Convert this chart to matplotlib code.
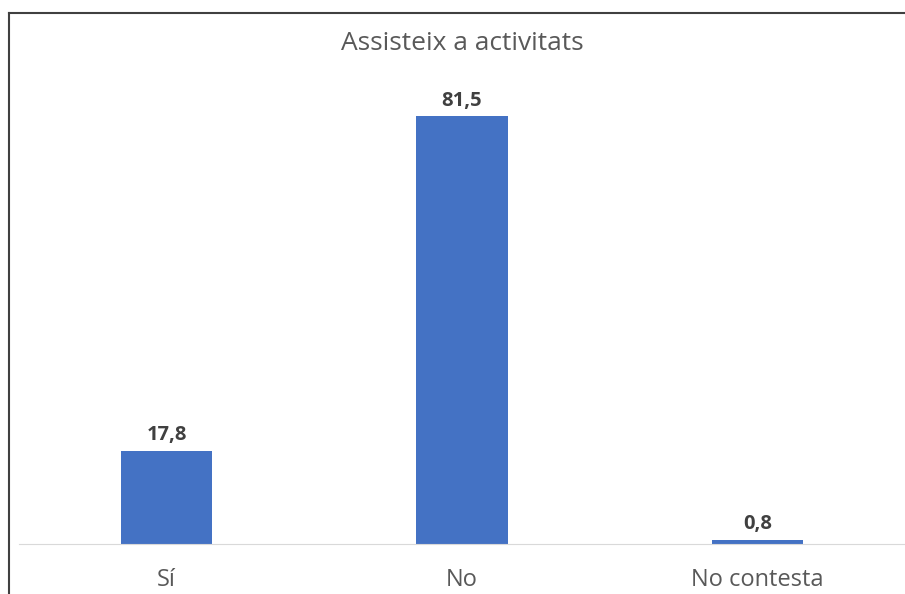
import matplotlib.pyplot as plt
from matplotlib.lines import Line2D

# dades
categories = ['Sí', 'No', 'No contesta']
values = [17.8, 81.5, 0.8]
labels = ['17,8', '81,5', '0,8']

plt.rcParams['font.family'] = ['Open Sans', 'DejaVu Sans']

W, H = 905, 594
fig = plt.figure(figsize=(W / 100, H / 100), dpi=100)

# eixos en píxels de la imatge
left, right, bottom, top = 19, 905, 544, 71.5
ax = fig.add_axes([left / W, 1 - bottom / H, (right - left) / W, (bottom - top) / H])

ax.bar(range(len(categories)), values, width=0.31, color='#4472C4')
for i, (v, lab) in enumerate(zip(values, labels)):
    ax.annotate(lab, (i, v), xytext=(0, 4), textcoords='offset points',
                ha='center', va='bottom', fontsize=14.5, fontweight='bold', color='#404040')

ax.set_xlim(-0.5, 2.5)
ax.set_ylim(0, 90)
ax.set_xticks(range(len(categories)))
ax.set_xticklabels(categories, fontsize=17, color='#595959')
ax.tick_params(axis='x', length=0, pad=17)
ax.set_yticks([])
for s in ['top', 'right', 'left']:
    ax.spines[s].set_visible(False)
ax.spines['bottom'].set_color('#D9D9D9')

fig.text(462 / W, 1 - 44 / H, 'Assisteix a activitats', ha='center', va='center',
         fontsize=19, color='#595959')

# marc del gràfic
fig.add_artist(Line2D([9 / W, 9 / W], [0, 1 - 13 / H], color='#404040', lw=1.5,
                      transform=fig.transFigure))
fig.add_artist(Line2D([9 / W, 1], [1 - 13 / H, 1 - 13 / H], color='#404040', lw=1.5,
                      transform=fig.transFigure))

fig.savefig('out.png', dpi=100)
